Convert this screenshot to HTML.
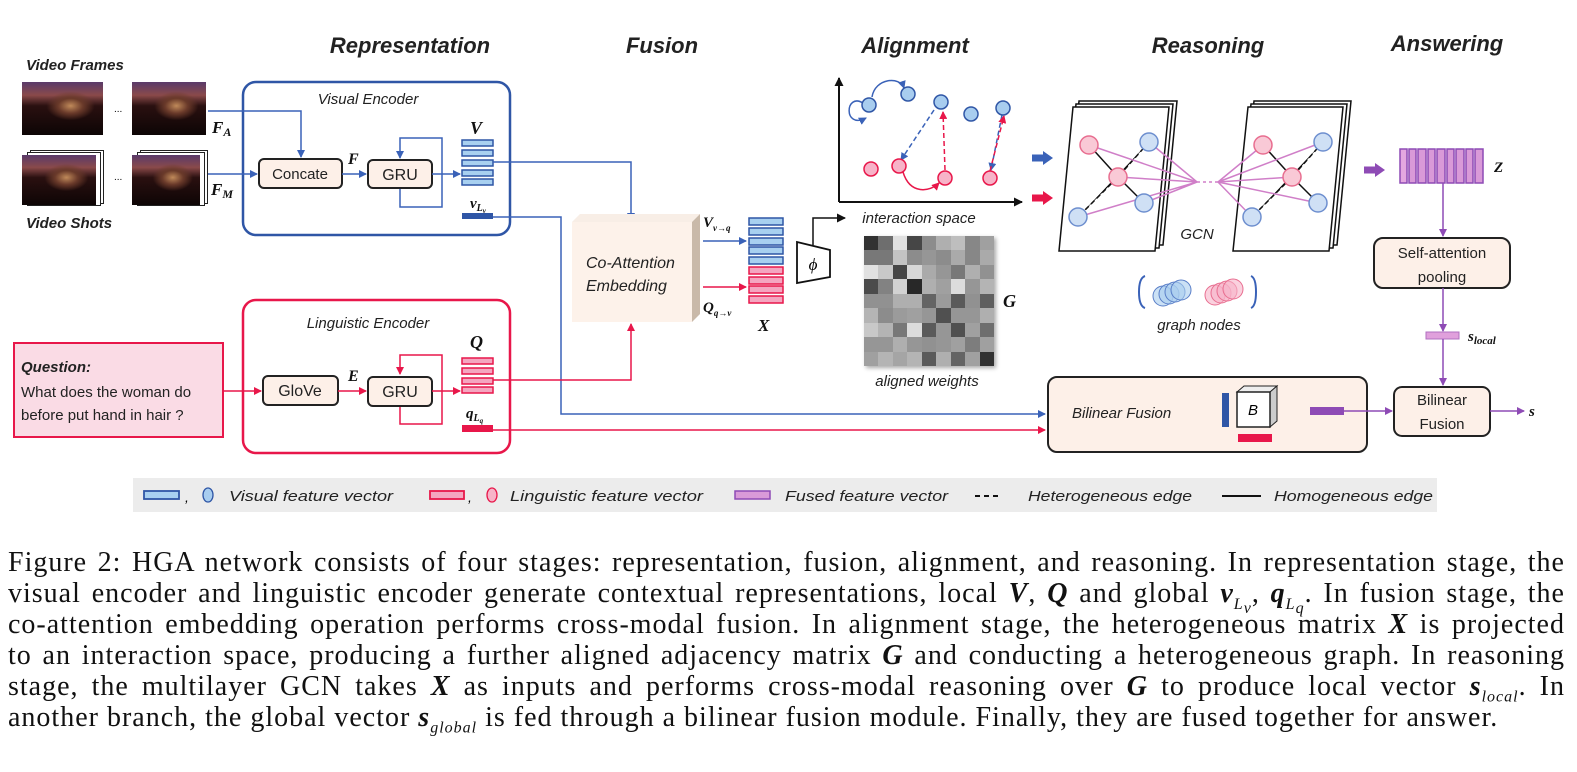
<!DOCTYPE html>
<html><head><meta charset="utf-8"><style>
body{margin:0;background:#fff;width:1577px;height:772px;overflow:hidden;position:relative;font-family:"Liberation Sans",sans-serif}
svg{position:absolute;left:0;top:0}
.cap{position:absolute;left:8px;width:1557px;font-family:"Liberation Serif",serif;font-size:28px;letter-spacing:1px;line-height:31px;white-space:nowrap;text-align:justify;text-align-last:justify;color:#111}
.cap.last{text-align-last:left;width:auto}
.m{font-weight:bold;font-style:italic}
.cap sub{font-size:16px;font-style:italic;line-height:0}
.img{position:absolute;background:radial-gradient(ellipse at 60% 45%,#c08a5a 0,#6a3a2a 18%,transparent 35%),linear-gradient(#5a3a6a 0,#8a4a4a 25%,#2a1010 45%,#0d0505 100%)}
.stk{position:absolute;border:1px solid #222;background:#fff}
</style></head><body>
<svg width="1577" height="772" viewBox="0 0 1577 772" font-family="Liberation Sans, sans-serif">
<defs>
<marker id="ab" markerWidth="8" markerHeight="8" refX="7" refY="4" orient="auto" markerUnits="userSpaceOnUse"><path d="M0,0L8,4L0,8z" fill="#3a62b8"/></marker>
<marker id="ar" markerWidth="8" markerHeight="8" refX="7" refY="4" orient="auto" markerUnits="userSpaceOnUse"><path d="M0,0L8,4L0,8z" fill="#e8174a"/></marker>
<marker id="ak" markerWidth="9" markerHeight="9" refX="8" refY="4.5" orient="auto" markerUnits="userSpaceOnUse"><path d="M0,0L9,4.5L0,9z" fill="#111"/></marker>
<marker id="ap" markerWidth="8" markerHeight="8" refX="7" refY="4" orient="auto" markerUnits="userSpaceOnUse"><path d="M0,0L8,4L0,8z" fill="#8e4bb5"/></marker>
</defs>
<g font-weight="bold" font-style="italic" font-size="22" fill="#222" text-anchor="middle">
<text x="410" y="53">Representation</text><text x="662" y="53">Fusion</text><text x="915" y="53">Alignment</text><text x="1208" y="53">Reasoning</text><text x="1447" y="51">Answering</text>
</g>
<g font-weight="bold" font-style="italic" font-size="15" fill="#222">
<text x="26" y="70">Video Frames</text><text x="26" y="228">Video Shots</text></g>
<text x="114" y="112" font-size="10">...</text><text x="114" y="180" font-size="10">...</text>
<g font-family="Liberation Serif, serif" font-weight="bold" font-style="italic" fill="#111">
<text x="212" y="133" font-size="17">F<tspan font-size="12" dy="3">A</tspan></text>
<text x="211" y="195" font-size="17">F<tspan font-size="12" dy="3">M</tspan></text>
<text x="348" y="164" font-size="16">F</text>
<text x="470" y="134" font-size="18">V</text>
<text x="470" y="208" font-size="15">v<tspan font-size="10" dy="3">L</tspan><tspan font-size="7" dy="2">v</tspan></text>
<text x="348" y="381" font-size="16">E</text>
<text x="470" y="348" font-size="18">Q</text>
<text x="466" y="418" font-size="15">q<tspan font-size="10" dy="3">L</tspan><tspan font-size="7" dy="2">q</tspan></text>
<text x="703" y="227" font-size="15">V<tspan font-size="9" dy="4">v→q</tspan></text>
<text x="703" y="312" font-size="15">Q<tspan font-size="9" dy="4">q→v</tspan></text>
<text x="758" y="331" font-size="17">X</text>
<text x="1003" y="307" font-size="18">G</text>
<text x="1494" y="172" font-size="15">Z</text>
<text x="1468" y="341" font-size="15">s<tspan font-size="11" dy="3">local</tspan></text>
<text x="1305" y="434" font-size="14">s<tspan font-size="10" dy="3">global</tspan></text>
<text x="1529" y="416" font-size="15">s</text>
</g>
<rect x="243" y="82" width="267" height="153" rx="13" fill="none" stroke="#2f56a6" stroke-width="2.5"/>
<text x="368" y="104" font-size="15" font-style="italic" fill="#222" text-anchor="middle">Visual Encoder</text>
<path d="M208,111H301V157" fill="none" stroke="#3a62b8" stroke-width="1.5" marker-end="url(#ab)"/>
<path d="M208,174H257" fill="none" stroke="#3a62b8" stroke-width="1.5" marker-end="url(#ab)"/>
<rect x="259" y="159" width="83" height="29" rx="5" fill="#fdf0e8" stroke="#222" stroke-width="2"/>
<text x="300" y="179" font-size="15" text-anchor="middle" fill="#222">Concate</text>
<path d="M342,174H366" stroke="#3a62b8" stroke-width="1.5" marker-end="url(#ab)"/>
<path d="M400,188V207H442V138H400V158" fill="none" stroke="#3a62b8" stroke-width="1.5" marker-end="url(#ab)"/>
<rect x="368" y="160" width="64" height="28" rx="5" fill="#fdf0e8" stroke="#222" stroke-width="2"/>
<text x="400" y="180" font-size="16" text-anchor="middle" fill="#222">GRU</text>
<path d="M432,174H460" stroke="#3a62b8" stroke-width="1.5" marker-end="url(#ab)"/>
<g fill="#a8d0f0" stroke="#2f56a6" stroke-width="1.5">
<rect x="462" y="140" width="31" height="6"/><rect x="462" y="150" width="31" height="6"/><rect x="462" y="160" width="31" height="6"/><rect x="462" y="170" width="31" height="6"/><rect x="462" y="179" width="31" height="6"/></g>
<rect x="462" y="213" width="31" height="6" fill="#2f56a6"/>
<path d="M493,162H631V220" fill="none" stroke="#3a62b8" stroke-width="1.5" marker-end="url(#ab)"/>
<path d="M493,217H561V414H1045" fill="none" stroke="#3a62b8" stroke-width="1.5" marker-end="url(#ab)"/>
<rect x="243" y="300" width="267" height="153" rx="13" fill="none" stroke="#e8174a" stroke-width="2.5"/>
<text x="368" y="328" font-size="15" font-style="italic" fill="#222" text-anchor="middle">Linguistic Encoder</text>
<rect x="14" y="343" width="209" height="94" fill="#fadbe5" stroke="#e8174a" stroke-width="2"/>
<text x="21" y="372" font-size="15" font-weight="bold" font-style="italic" fill="#222">Question:</text>
<text x="21" y="397" font-size="15" fill="#222">What does the woman do</text>
<text x="21" y="420" font-size="15" fill="#222">before put hand in hair ?</text>
<path d="M223,391H261" stroke="#e8174a" stroke-width="1.5" marker-end="url(#ar)"/>
<rect x="263" y="376" width="75" height="29" rx="5" fill="#fdf0e8" stroke="#222" stroke-width="2"/>
<text x="300" y="396" font-size="16" text-anchor="middle" fill="#222">GloVe</text>
<path d="M338,391H366" stroke="#e8174a" stroke-width="1.5" marker-end="url(#ar)"/>
<path d="M400,406V424H442V355H400V374" fill="none" stroke="#e8174a" stroke-width="1.5" marker-end="url(#ar)"/>
<rect x="368" y="377" width="64" height="29" rx="5" fill="#fdf0e8" stroke="#222" stroke-width="2"/>
<text x="400" y="397" font-size="16" text-anchor="middle" fill="#222">GRU</text>
<path d="M432,391H460" stroke="#e8174a" stroke-width="1.5" marker-end="url(#ar)"/>
<g fill="#f4a6c0" stroke="#e8174a" stroke-width="1.5">
<rect x="462" y="358" width="31" height="6"/><rect x="462" y="368" width="31" height="6"/><rect x="462" y="378" width="31" height="6"/><rect x="462" y="387" width="31" height="6"/></g>
<rect x="462" y="425" width="31" height="7" fill="#e8174a"/>
<path d="M493,380H631V324" fill="none" stroke="#e8174a" stroke-width="1.5" marker-end="url(#ar)"/>
<path d="M493,430H1045" fill="none" stroke="#e8174a" stroke-width="1.5" marker-end="url(#ar)"/>
<polygon points="572,222 580,214 700,214 692,222" fill="#f8eee6"/>
<polygon points="692,222 700,214 700,314 692,322" fill="#c9b9a9"/>
<rect x="572" y="222" width="120" height="100" fill="#fdf2ea"/>
<text x="586" y="268" font-size="16" font-style="italic" fill="#222">Co-Attention</text>
<text x="586" y="291" font-size="16" font-style="italic" fill="#222">Embedding</text>
<path d="M703,241H746" stroke="#3a62b8" stroke-width="1.5" marker-end="url(#ab)"/>
<path d="M703,287H746" stroke="#e8174a" stroke-width="1.5" marker-end="url(#ar)"/>
<g fill="#a8d0f0" stroke="#2f56a6" stroke-width="1.5">
<rect x="749" y="218" width="34" height="7"/><rect x="749" y="228" width="34" height="7"/><rect x="749" y="238" width="34" height="7"/><rect x="749" y="247" width="34" height="7"/><rect x="749" y="257" width="34" height="7"/></g>
<g fill="#f4a6c0" stroke="#e8174a" stroke-width="1.5">
<rect x="749" y="267" width="34" height="7"/><rect x="749" y="277" width="34" height="7"/><rect x="749" y="286" width="34" height="7"/><rect x="749" y="296" width="34" height="7"/></g>
<polygon points="797,242 830,250 830,277 797,283" fill="#fff" stroke="#111" stroke-width="1.8"/>
<text x="813" y="270" font-family="Liberation Serif, serif" font-style="italic" font-size="17" text-anchor="middle">ϕ</text>
<path d="M813,245V218H845" fill="none" stroke="#111" stroke-width="1.5" marker-end="url(#ak)"/>
<path d="M839,202V78" stroke="#111" stroke-width="2" marker-end="url(#ak)"/>
<path d="M839,202H1022" stroke="#111" stroke-width="2" marker-end="url(#ak)"/>
<path d="M863,103C845,92 843,130 866,118" fill="none" stroke="#3a62b8" stroke-width="1.5" marker-end="url(#ab)"/>
<path d="M872,97C875,78 900,76 904,88" fill="none" stroke="#3a62b8" stroke-width="1.5" marker-end="url(#ab)"/>
<path d="M903,172C910,195 930,192 939,183" fill="none" stroke="#e8174a" stroke-width="1.5" marker-end="url(#ar)"/>
<path d="M934,110L901,160" stroke="#3a62b8" stroke-width="1.5" stroke-dasharray="5,3" marker-end="url(#ab)"/>
<path d="M945,170L943,112" stroke="#e8174a" stroke-width="1.5" stroke-dasharray="5,3" marker-end="url(#ar)"/>
<path d="M1002,115L991,170" stroke="#3a62b8" stroke-width="1.5" stroke-dasharray="5,3" marker-end="url(#ab)"/>
<path d="M990,171L1004,116" stroke="#e8174a" stroke-width="1.5" stroke-dasharray="5,3" marker-end="url(#ar)"/>
<g fill="#a8cdef" stroke="#2f56a6" stroke-width="1.5">
<circle cx="869" cy="105" r="7"/><circle cx="908" cy="94" r="7"/><circle cx="941" cy="102" r="7"/><circle cx="971" cy="114" r="7"/><circle cx="1003" cy="108" r="7"/></g>
<g fill="#f7b3c8" stroke="#e8174a" stroke-width="1.5">
<circle cx="871" cy="169" r="7"/><circle cx="899" cy="166" r="7"/><circle cx="945" cy="178" r="7"/><circle cx="990" cy="178" r="7"/></g>
<text x="919" y="223" font-size="15" font-style="italic" fill="#222" text-anchor="middle">interaction space</text>
<text x="927" y="386" font-size="15" font-style="italic" fill="#222" text-anchor="middle">aligned weights</text>
<path d="M1032,158H1044" stroke="#3a62b8" stroke-width="7"/><polygon points="1043,151 1053,158 1043,165" fill="#3a62b8"/>
<path d="M1032,198H1044" stroke="#e8174a" stroke-width="7"/><polygon points="1043,191 1053,198 1043,205" fill="#e8174a"/>
<g fill="#fff" stroke="#111" stroke-width="1.5">
<polygon points="1065,245 1079,101 1177,101 1163,245"/><polygon points="1062,248 1076,104 1173,104 1159,248"/><polygon points="1059,251 1073,107 1169,107 1155,251"/>
<polygon points="1239,245 1254,101 1351,101 1337,245"/><polygon points="1236,248 1251,104 1347,104 1333,248"/><polygon points="1233,251 1248,107 1343,107 1329,251"/>
</g>
<g stroke="#111" stroke-width="1.5">
<path d="M1089,145L1118,177M1144,203L1118,177"/><path d="M1149,142L1118,177L1078,217" stroke-dasharray="5,3"/>
<path d="M1263,145L1292,177M1318,203L1292,177"/><path d="M1323,142L1292,177L1252,217" stroke-dasharray="5,3"/>
</g>
<g stroke="#d07fc8" stroke-width="1.5" fill="none">
<path d="M1089,145L1197,182M1149,142L1197,182M1118,177L1197,182M1144,203L1197,182M1078,217L1197,182"/>
<path d="M1263,145L1218,182M1323,142L1218,182M1292,177L1218,182M1318,203L1218,182M1252,217L1218,182"/>
<path d="M1197,182H1218" stroke-dasharray="3,3"/>
</g>
<g stroke-width="1.5">
<circle cx="1089" cy="145" r="9" fill="#f9c9d6" stroke="#e86e90"/><circle cx="1118" cy="177" r="9" fill="#f9c9d6" stroke="#e86e90"/>
<circle cx="1149" cy="142" r="9" fill="#cfe0f5" stroke="#6e8fcf"/><circle cx="1144" cy="203" r="9" fill="#cfe0f5" stroke="#6e8fcf"/><circle cx="1078" cy="217" r="9" fill="#cfe0f5" stroke="#6e8fcf"/>
<circle cx="1263" cy="145" r="9" fill="#f9c9d6" stroke="#e86e90"/><circle cx="1292" cy="177" r="9" fill="#f9c9d6" stroke="#e86e90"/>
<circle cx="1323" cy="142" r="9" fill="#cfe0f5" stroke="#6e8fcf"/><circle cx="1318" cy="203" r="9" fill="#cfe0f5" stroke="#6e8fcf"/><circle cx="1252" cy="217" r="9" fill="#cfe0f5" stroke="#6e8fcf"/>
</g>
<text x="1197" y="239" font-size="15" font-style="italic" fill="#222" text-anchor="middle">GCN</text>
<path d="M1145,276Q1139,278 1139,292Q1139,306 1145,308" fill="none" stroke="#3a62b8" stroke-width="2"/>
<path d="M1251,276Q1256,278 1256,292Q1256,306 1251,308" fill="none" stroke="#3a62b8" stroke-width="2"/>
<g fill="#a8cdef" fill-opacity="0.6" stroke="#5a7fc8"><circle cx="1163" cy="296" r="10"/><circle cx="1169" cy="294" r="10"/><circle cx="1175" cy="292" r="10"/><circle cx="1181" cy="290" r="10"/></g>
<g fill="#f7b3c8" fill-opacity="0.6" stroke="#e86e90"><circle cx="1215" cy="295" r="10"/><circle cx="1221" cy="293" r="10"/><circle cx="1227" cy="291" r="10"/><circle cx="1233" cy="289" r="10"/></g>
<text x="1199" y="330" font-size="15" font-style="italic" fill="#222" text-anchor="middle">graph nodes</text>
<path d="M1364,170H1376" stroke="#8e4bb5" stroke-width="7"/><polygon points="1375,163 1385,170 1375,177" fill="#8e4bb5"/>
<g fill="#d99ad8" stroke="#8e4bb5" stroke-width="1.5">
<rect x="1400" y="149" width="7" height="34" fill="#e4a8e0"/><rect x="1409" y="149" width="7" height="34"/><rect x="1418" y="149" width="8" height="34"/><rect x="1428" y="149" width="7" height="34"/><rect x="1437" y="149" width="8" height="34"/><rect x="1447" y="149" width="7" height="34"/><rect x="1456" y="149" width="8" height="34"/><rect x="1466" y="149" width="7" height="34"/><rect x="1475" y="149" width="8" height="34"/></g>
<path d="M1443,183V236" stroke="#8e4bb5" stroke-width="1.5" marker-end="url(#ap)"/>
<rect x="1374" y="238" width="136" height="50" rx="9" fill="#fdf0e8" stroke="#222" stroke-width="2"/>
<text x="1442" y="258" font-size="15" text-anchor="middle" fill="#222">Self-attention</text>
<text x="1442" y="282" font-size="15" text-anchor="middle" fill="#222">pooling</text>
<path d="M1443,288V331" stroke="#8e4bb5" stroke-width="1.5" marker-end="url(#ap)"/>
<rect x="1426" y="332" width="33" height="7" fill="#e0a0dc" stroke="#b070c0"/>
<path d="M1443,339V385" stroke="#8e4bb5" stroke-width="1.5" marker-end="url(#ap)"/>
<rect x="1394" y="387" width="96" height="49" rx="8" fill="#fdf0e8" stroke="#222" stroke-width="2"/>
<text x="1442" y="405" font-size="15" text-anchor="middle" fill="#222">Bilinear</text>
<text x="1442" y="429" font-size="15" text-anchor="middle" fill="#222">Fusion</text>
<path d="M1490,411H1524" stroke="#8e4bb5" stroke-width="1.5" marker-end="url(#ap)"/>
<rect x="1048" y="377" width="319" height="75" rx="9" fill="#fdf0e8" stroke="#222" stroke-width="2"/>
<text x="1072" y="418" font-size="15" font-style="italic" fill="#222">Bilinear Fusion</text>
<rect x="1222" y="393" width="7" height="34" fill="#2f56a6"/>
<polygon points="1237,392 1244,386 1277,386 1270,392" fill="#eee" stroke="#222"/>
<polygon points="1270,392 1277,386 1277,421 1270,427" fill="#ccc" stroke="#222"/>
<rect x="1237" y="392" width="33" height="35" fill="#fff" stroke="#222" stroke-width="1.5"/>
<text x="1253" y="415" font-size="15" font-style="italic" text-anchor="middle">B</text>
<rect x="1238" y="434" width="34" height="8" fill="#e8174a"/>
<rect x="1310" y="407" width="34" height="8" fill="#8e4bb5"/>
<path d="M1344,411H1392" stroke="#8e4bb5" stroke-width="1.5" marker-end="url(#ap)"/>
<rect x="133" y="478" width="1304" height="34" fill="#ececec"/>
<rect x="144" y="491" width="35" height="8" fill="#a8d0f0" stroke="#2f56a6" stroke-width="1.8"/>
<text x="185" y="502" font-size="14" font-style="italic">,</text>
<ellipse cx="208" cy="495" rx="5" ry="7" fill="#a8cdef" stroke="#2f56a6" stroke-width="1.3"/>
<rect x="430" y="491" width="34" height="8" fill="#f4a6c0" stroke="#e8174a" stroke-width="1.8"/>
<text x="468" y="502" font-size="14" font-style="italic">,</text>
<ellipse cx="492" cy="495" rx="5" ry="7" fill="#f7b3c8" stroke="#e8174a" stroke-width="1.3"/>
<rect x="735" y="491" width="35" height="8" fill="#d99ad8" stroke="#8e4bb5" stroke-width="1.5"/>
<path d="M975,496H1002" stroke="#111" stroke-width="2" stroke-dasharray="5,4"/>
<path d="M1222,496H1261" stroke="#111" stroke-width="2"/>
<g font-size="15" font-style="italic" fill="#222">
<text x="229" y="501" textLength="164" lengthAdjust="spacingAndGlyphs">Visual feature vector</text>
<text x="510" y="501" textLength="193" lengthAdjust="spacingAndGlyphs">Linguistic feature vector</text>
<text x="785" y="501" textLength="163" lengthAdjust="spacingAndGlyphs">Fused feature vector</text>
<text x="1028" y="501" textLength="164" lengthAdjust="spacingAndGlyphs">Heterogeneous edge</text>
<text x="1274" y="501" textLength="159" lengthAdjust="spacingAndGlyphs">Homogeneous edge</text>
</g>
</svg>
<div class="img" style="left:22px;top:82px;width:81px;height:53px"></div>
<div class="img" style="left:132px;top:82px;width:74px;height:53px"></div>
<div class="stk" style="left:30px;top:150px;width:72px;height:52px"></div>
<div class="stk" style="left:27px;top:152px;width:72px;height:52px"></div>
<div class="img" style="left:22px;top:155px;width:74px;height:50px"></div>
<div class="stk" style="left:140px;top:150px;width:66px;height:52px"></div>
<div class="stk" style="left:137px;top:152px;width:66px;height:52px"></div>
<div class="img" style="left:132px;top:155px;width:68px;height:50px"></div>
<div style="position:absolute;left:864px;top:236px;width:130px;height:130px;display:grid;grid-template-columns:repeat(9,1fr);grid-template-rows:repeat(9,1fr);box-shadow:2px 2px 4px #aaa">
<i style="background:#323232"></i><i style="background:#6e6e6e"></i><i style="background:#e1e1e1"></i><i style="background:#464646"></i><i style="background:#8c8c8c"></i><i style="background:#afafaf"></i><i style="background:#bebebe"></i><i style="background:#878787"></i><i style="background:#a0a0a0"></i>
<i style="background:#787878"></i><i style="background:#787878"></i><i style="background:#c3c3c3"></i><i style="background:#8c8c8c"></i><i style="background:#969696"></i><i style="background:#8c8c8c"></i><i style="background:#aaaaaa"></i><i style="background:#878787"></i><i style="background:#aaaaaa"></i>
<i style="background:#e1e1e1"></i><i style="background:#c8c8c8"></i><i style="background:#464646"></i><i style="background:#d7d7d7"></i><i style="background:#aaaaaa"></i><i style="background:#969696"></i><i style="background:#787878"></i><i style="background:#afafaf"></i><i style="background:#919191"></i>
<i style="background:#4b4b4b"></i><i style="background:#828282"></i><i style="background:#d2d2d2"></i><i style="background:#282828"></i><i style="background:#afafaf"></i><i style="background:#a0a0a0"></i><i style="background:#dcdcdc"></i><i style="background:#969696"></i><i style="background:#b4b4b4"></i>
<i style="background:#919191"></i><i style="background:#919191"></i><i style="background:#afafaf"></i><i style="background:#afafaf"></i><i style="background:#646464"></i><i style="background:#9b9b9b"></i><i style="background:#5a5a5a"></i><i style="background:#919191"></i><i style="background:#5f5f5f"></i>
<i style="background:#b4b4b4"></i><i style="background:#8c8c8c"></i><i style="background:#9b9b9b"></i><i style="background:#a0a0a0"></i><i style="background:#969696"></i><i style="background:#505050"></i><i style="background:#969696"></i><i style="background:#969696"></i><i style="background:#afafaf"></i>
<i style="background:#c8c8c8"></i><i style="background:#b4b4b4"></i><i style="background:#787878"></i><i style="background:#dcdcdc"></i><i style="background:#5a5a5a"></i><i style="background:#969696"></i><i style="background:#505050"></i><i style="background:#a0a0a0"></i><i style="background:#6e6e6e"></i>
<i style="background:#969696"></i><i style="background:#969696"></i><i style="background:#afafaf"></i><i style="background:#969696"></i><i style="background:#919191"></i><i style="background:#969696"></i><i style="background:#a0a0a0"></i><i style="background:#7d7d7d"></i><i style="background:#a0a0a0"></i>
<i style="background:#a0a0a0"></i><i style="background:#b4b4b4"></i><i style="background:#a5a5a5"></i><i style="background:#b4b4b4"></i><i style="background:#5a5a5a"></i><i style="background:#afafaf"></i><i style="background:#646464"></i><i style="background:#a0a0a0"></i><i style="background:#323232"></i>
</div>
<div class="cap" style="top:547px">Figure 2: HGA network consists of four stages: representation, fusion, alignment, and reasoning. In representation stage, the</div>
<div class="cap" style="top:578px">visual encoder and linguistic encoder generate contextual representations, local <span class="m">V</span>, <span class="m">Q</span> and global <span class="m">v</span><sub>L<sub>v</sub></sub>, <span class="m">q</span><sub>L<sub>q</sub></sub>. In fusion stage, the</div>
<div class="cap" style="top:609px">co-attention embedding operation performs cross-modal fusion. In alignment stage, the heterogeneous matrix <span class="m">X</span> is projected</div>
<div class="cap" style="top:640px">to an interaction space, producing a further aligned adjacency matrix <span class="m">G</span> and conducting a heterogeneous graph. In reasoning</div>
<div class="cap" style="top:671px">stage, the multilayer GCN takes <span class="m">X</span> as inputs and performs cross-modal reasoning over <span class="m">G</span> to produce local vector <span class="m">s</span><sub>local</sub>. In</div>
<div class="cap last" style="top:702px">another branch, the global vector <span class="m">s</span><sub>global</sub> is fed through a bilinear fusion module. Finally, they are fused together for answer.</div>
</body></html>
